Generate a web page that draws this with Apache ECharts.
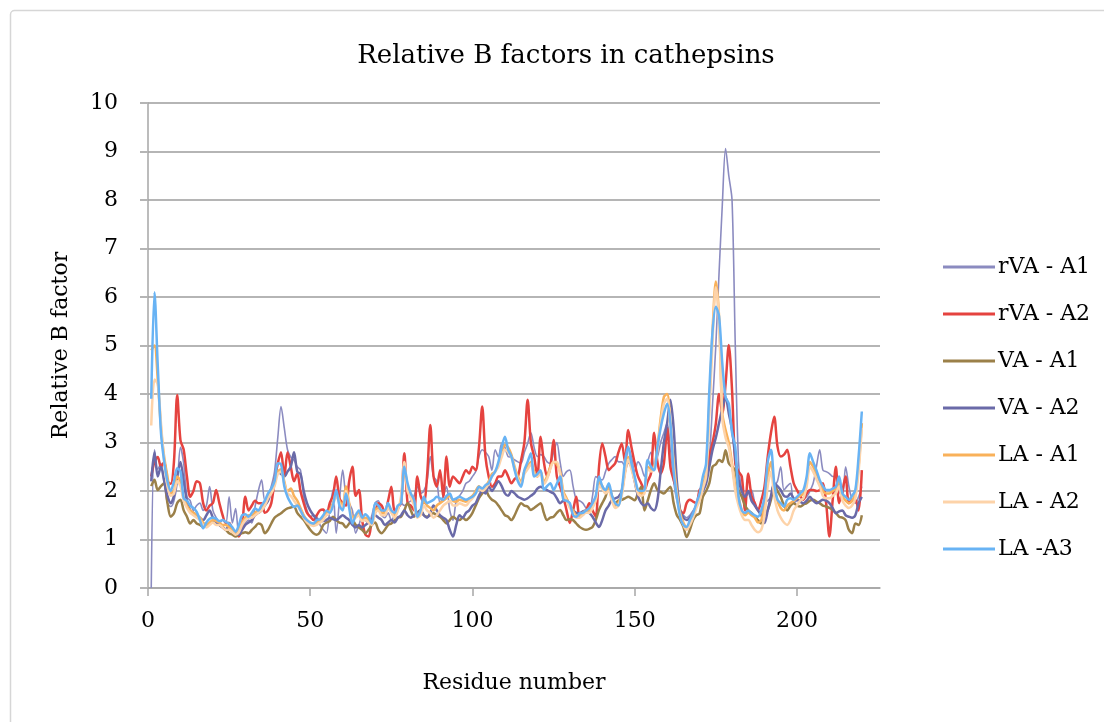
<!DOCTYPE html>
<html>
<head>
<meta charset="utf-8">
<title>Relative B factors in cathepsins</title>
<script src="https://cdn.jsdelivr.net/npm/echarts@6/dist/echarts.min.js"></script>
<style>
  html, body { margin: 0; padding: 0; background: #fff; }
  #chart { width: 1104px; height: 722px; }
</style>
</head>
<body>
<div id="chart"></div>
<script>
// relative B factor per residue (residues 1..220)
const rVA_A1 = [
  0, 2.85, 2.45, 2.57, 2.16, 1.75, 1.68, 1.8, 2.16, 2.9,
  2.57, 1.88, 1.8, 1.6, 1.7, 1.75, 1.6, 1.7, 2.09, 1.6,
  1.45, 1.34, 1.4, 1.34, 1.88, 1.34, 1.64, 1.13, 1.25, 1.34,
  1.4, 1.34, 1.68, 2.0, 2.23, 1.8, 1.9, 2.1, 2.4, 3.1,
  3.74, 3.3, 2.85, 2.7, 2.64, 2.5, 2.43, 1.88, 1.6, 1.47,
  1.5, 1.47, 1.3, 1.2, 1.13, 1.6, 2.02, 1.13, 1.8, 2.43,
  1.9, 1.75, 1.6, 1.13, 1.3, 1.47, 1.4, 1.33, 1.5, 1.75,
  1.8, 1.5, 1.45, 1.55, 1.4, 1.5, 1.6, 1.75, 1.7, 1.75,
  1.8, 1.9, 2.09, 1.95, 2.0, 2.2, 2.71, 2.3, 2.2, 1.75,
  1.9, 2.09, 1.6, 1.4, 1.8, 1.9, 2.0, 2.16, 2.2, 2.3,
  2.4, 2.71, 2.85, 2.8, 2.71, 2.43, 2.85, 2.7, 2.98, 2.9,
  2.71, 2.7, 2.64, 2.6, 2.57, 2.8, 2.98, 3.2, 2.9, 2.71,
  2.75, 2.71, 2.6, 2.57, 2.8, 3.0, 2.6, 2.3, 2.4, 2.43,
  2.1, 1.82, 1.8, 1.75, 1.65, 1.6, 1.9, 2.3, 2.25, 2.23,
  2.4, 2.57, 2.65, 2.71, 2.6, 2.6, 2.5, 2.9, 2.7, 2.4,
  2.6, 2.5, 2.3, 2.6, 2.8, 2.5, 2.7, 3.0, 3.2, 3.4,
  2.9, 2.2, 1.8, 1.6, 1.5, 1.45, 1.5, 1.6, 1.7, 1.88,
  2.0, 2.3, 2.7, 3.8, 5.0, 6.5, 7.9, 9.06, 8.5, 8.0,
  5.0, 2.6, 2.0, 1.88, 1.95, 2.02, 1.75, 1.6, 1.54, 1.75,
  1.8, 1.88, 2.09, 2.2, 2.5, 2.02, 2.1, 2.16, 1.75, 1.8,
  1.82, 1.85, 1.88, 2.0, 2.16, 2.5, 2.85, 2.43, 2.4, 2.36,
  2.3, 2.3, 2.0, 1.88, 2.5, 2.1, 1.82, 1.75, 1.88, 2.09
];
const rVA_A2 = [
  2.3, 2.6, 2.7, 2.5, 2.6, 2.2, 2.15, 2.6, 3.98, 3.05,
  2.85, 2.3, 1.88, 2.0, 2.2, 2.16, 1.75, 1.6, 1.7, 1.75,
  2.02, 1.75, 1.5, 1.34, 1.34, 1.2, 1.13, 1.06, 1.3, 1.88,
  1.6, 1.7, 1.8, 1.75, 1.75, 1.55, 1.6, 1.75, 2.2, 2.57,
  2.8, 2.3, 2.8, 2.5, 2.2, 2.36, 2.0, 1.75, 1.55, 1.47,
  1.4, 1.5, 1.6, 1.62, 1.5, 1.75, 1.9, 2.3, 1.85, 1.75,
  1.7, 2.2, 2.5, 1.9, 2.02, 1.4, 1.1, 1.06, 1.4, 1.55,
  1.75, 1.7, 1.55, 1.8, 2.09, 1.6, 1.65, 1.75, 2.78, 1.75,
  1.7, 1.6, 2.3, 1.9, 1.75, 2.3, 3.36, 2.3, 2.09, 2.43,
  1.88, 2.71, 2.09, 2.3, 2.23, 2.16, 2.3, 2.43, 2.36, 2.5,
  2.43, 2.9, 3.74, 2.71, 2.3, 2.09, 2.16, 2.3, 2.3, 2.43,
  2.3, 2.16, 2.25, 2.3, 2.64, 3.0, 3.88, 3.0, 2.71, 2.3,
  3.12, 2.6, 2.3, 2.5, 3.05, 2.3, 2.09, 1.88, 1.6, 1.34,
  1.6, 1.88, 1.47, 1.55, 1.6, 1.75, 1.6, 1.47, 2.5, 2.98,
  2.71, 2.43, 2.5, 2.57, 2.8, 2.98, 2.6, 3.26, 2.9, 2.57,
  2.3, 2.16, 2.02, 2.2, 2.36, 3.2, 2.6, 2.36, 2.57, 3.3,
  2.5, 2.23, 2.02, 1.6, 1.54, 1.75, 1.82, 1.78, 1.75, 2.02,
  2.1, 2.3, 2.71, 3.0, 3.39, 4.0, 3.6, 4.2, 5.01, 4.08,
  2.57, 2.4, 2.3, 1.6, 2.36, 1.9, 1.75, 1.6, 1.8, 2.09,
  2.71, 3.2, 3.53, 2.92, 2.71, 2.75, 2.85, 2.5, 2.16, 2.02,
  1.9, 1.82, 1.95, 2.02, 2.02, 2.0, 2.02, 2.16, 1.75, 1.06,
  1.8, 2.5, 1.75, 2.0, 2.3, 1.75, 1.8, 1.82, 1.6, 2.43
];
const VA_A1 = [
  2.1, 2.23, 2.02, 2.1, 2.16, 1.75, 1.47, 1.54, 1.75, 1.82,
  1.6, 1.47, 1.33, 1.4, 1.33, 1.3, 1.26, 1.3, 1.33, 1.38,
  1.4, 1.3, 1.26, 1.2, 1.13, 1.1, 1.06, 1.1, 1.13, 1.15,
  1.13, 1.2, 1.26, 1.33, 1.3, 1.13, 1.2, 1.33, 1.45, 1.5,
  1.54, 1.6, 1.64, 1.66, 1.68, 1.55, 1.47, 1.4, 1.3, 1.2,
  1.13, 1.1, 1.15, 1.3, 1.35, 1.38, 1.47, 1.4, 1.35, 1.33,
  1.25, 1.33, 1.4, 1.3, 1.25, 1.2, 1.13, 1.2, 1.3, 1.35,
  1.2, 1.13, 1.2, 1.3, 1.33, 1.4, 1.45, 1.47, 1.6, 1.75,
  1.6, 1.47, 1.55, 1.61, 1.5, 1.47, 1.5, 1.54, 1.5, 1.47,
  1.4, 1.33, 1.4, 1.47, 1.42, 1.4, 1.45, 1.4, 1.45, 1.55,
  1.7, 1.85, 1.95, 2.02, 1.9, 1.82, 1.78, 1.7, 1.6, 1.5,
  1.47, 1.4, 1.5, 1.65, 1.75, 1.7, 1.68, 1.61, 1.65, 1.7,
  1.75, 1.55, 1.4, 1.45, 1.47, 1.55, 1.61, 1.5, 1.4, 1.42,
  1.4, 1.33, 1.26, 1.22, 1.2, 1.22, 1.26, 1.4, 1.61, 1.75,
  1.88, 2.09, 1.9, 1.75, 1.8, 1.82, 1.85, 1.88, 1.85, 1.81,
  1.95, 2.09, 1.6, 1.8, 2.02, 2.16, 2.02, 1.98, 1.95, 2.02,
  2.09, 1.75, 1.5, 1.4, 1.26, 1.05, 1.2, 1.4, 1.5, 1.54,
  1.88, 2.0, 2.16, 2.5, 2.55, 2.64, 2.6, 2.84, 2.57, 2.5,
  2.43, 2.02, 1.88, 1.7, 1.6, 1.55, 1.47, 1.4, 1.33, 1.5,
  1.61, 1.82, 2.16, 2.0, 1.88, 1.7, 1.6, 1.7, 1.75, 1.7,
  1.68, 1.72, 1.75, 1.8, 1.82, 1.78, 1.75, 1.7, 1.68, 1.65,
  1.61, 1.55, 1.47, 1.45, 1.4, 1.2, 1.13, 1.33, 1.3, 1.5
];
const VA_A2 = [
  2.2, 2.8, 2.3, 2.5, 2.2, 1.9, 1.75, 1.9, 2.3, 2.6,
  2.2, 1.8, 1.6, 1.55, 1.5, 1.45, 1.4, 1.5, 1.6, 1.45,
  1.35, 1.3, 1.25, 1.2, 1.3, 1.2, 1.15, 1.1, 1.2, 1.3,
  1.35, 1.4, 1.5, 1.55, 1.6, 1.7, 1.8, 2.0, 2.2, 2.4,
  2.35, 2.3, 2.4, 2.5, 2.8, 2.4, 2.35, 2.0, 1.75, 1.6,
  1.5, 1.42, 1.4, 1.38, 1.4, 1.45, 1.42, 1.4, 1.45, 1.5,
  1.45, 1.4, 1.3, 1.25, 1.3, 1.25, 1.3, 1.35, 1.4, 1.5,
  1.45, 1.4, 1.3, 1.35, 1.4, 1.35, 1.45, 1.5, 1.6, 1.5,
  1.45, 1.5, 1.55, 1.6, 1.5, 1.45, 1.55, 1.7, 1.6, 1.5,
  1.45, 1.4, 1.2, 1.06, 1.3, 1.5, 1.45, 1.55, 1.6, 1.7,
  1.75, 1.9, 2.0, 1.95, 2.1, 2.0, 2.1, 2.2, 2.1, 1.95,
  1.9, 2.0, 1.95, 1.88, 1.85, 1.82, 1.85, 1.9, 1.95, 2.05,
  2.09, 2.05, 2.02, 1.98, 1.95, 1.85, 1.75, 1.8, 1.82, 1.7,
  1.6, 1.55, 1.54, 1.58, 1.6, 1.55, 1.47, 1.35, 1.26, 1.4,
  1.6, 1.7, 1.82, 1.85, 1.88, 2.0, 2.4, 2.6, 2.5, 2.2,
  1.9, 1.75, 1.7, 1.75, 1.65, 1.6, 1.8, 2.4, 3.0, 3.4,
  3.88, 3.3, 2.2, 1.6, 1.45, 1.4, 1.45, 1.54, 1.7, 1.88,
  2.0, 2.15, 2.5, 2.85, 3.1, 3.4, 3.7, 3.94, 3.6, 3.26,
  2.7, 2.23, 2.0, 1.88, 2.0, 1.8, 1.7, 1.6, 1.5, 1.34,
  1.6, 1.9, 2.16, 2.1, 2.02, 1.9, 1.88, 1.95, 1.85, 1.82,
  1.78, 1.75, 1.8, 1.88, 1.8, 1.75, 1.78, 1.82, 1.8, 1.75,
  1.65, 1.54, 1.58, 1.6, 1.5, 1.47, 1.45, 1.5, 1.75, 1.88
];
const LA_A1 = [
  4.9, 5.0, 4.3, 3.3, 2.7, 2.3, 1.95, 2.0, 2.3, 2.2,
  1.85, 1.7, 1.6, 1.55, 1.5, 1.45, 1.35, 1.3, 1.35, 1.4,
  1.38, 1.35, 1.3, 1.3, 1.25, 1.2, 1.15, 1.2, 1.35, 1.45,
  1.5, 1.5, 1.55, 1.6, 1.65, 1.75, 1.9, 2.0, 2.2, 2.4,
  2.45, 2.2, 2.0, 2.05, 1.9, 1.8, 1.65, 1.5, 1.4, 1.35,
  1.3, 1.35, 1.4, 1.45, 1.55, 1.6, 1.75, 1.95, 1.8, 1.7,
  2.1, 1.75, 1.45, 1.5, 1.55, 1.4, 1.45, 1.4, 1.35, 1.6,
  1.65, 1.55, 1.55, 1.7, 1.6, 1.5, 1.65, 1.8, 2.45, 2.1,
  1.9, 1.8, 1.5, 1.55, 1.8, 1.7, 1.65, 1.6, 1.7, 1.75,
  1.8, 1.85, 1.9, 1.8, 1.78, 1.82, 1.8, 1.78, 1.85, 1.9,
  2.0, 2.1, 2.05, 2.1, 2.2, 2.35, 2.4, 2.55, 2.8, 2.95,
  2.9, 2.75, 2.5, 2.3, 2.2, 2.4, 2.5, 2.6, 2.4, 2.3,
  2.4, 2.2, 2.3, 2.5, 2.6, 2.55, 2.4, 2.0, 1.85, 1.7,
  1.6, 1.5, 1.5, 1.55, 1.6, 1.6, 1.7, 1.85, 2.2, 2.1,
  2.0, 2.05, 1.85, 1.7, 1.75, 1.95, 2.4, 2.7, 2.5, 2.25,
  2.0, 1.95, 2.0, 2.5, 2.45, 2.5, 2.9, 3.5, 3.94, 4.0,
  3.4, 2.6, 2.0, 1.55, 1.35, 1.25, 1.35, 1.5, 1.7, 1.85,
  2.1, 2.4, 3.8, 5.32, 6.32, 5.59, 3.6, 3.26, 3.0, 2.57,
  2.1, 1.88, 1.6, 1.5, 1.55, 1.5, 1.45, 1.35, 1.4, 1.7,
  2.3, 2.6, 2.1, 1.8, 1.65, 1.6, 1.7, 1.75, 1.8, 1.85,
  1.9, 1.95, 2.2, 2.6, 2.5, 2.35, 2.2, 2.0, 1.95, 1.95,
  2.0, 2.05, 2.2, 1.9, 1.8, 1.75, 1.8, 1.95, 2.5, 3.4
];
const LA_A2 = [
  3.35, 4.3, 4.2, 3.4, 2.6, 2.1, 1.9, 1.95, 2.2, 2.1,
  1.8, 1.65, 1.55, 1.5, 1.45, 1.4, 1.3, 1.25, 1.3, 1.35,
  1.3, 1.3, 1.25, 1.2, 1.2, 1.15, 1.1, 1.15, 1.3, 1.4,
  1.45, 1.45, 1.5, 1.55, 1.6, 1.7, 1.85, 1.95, 2.1, 2.35,
  2.4, 2.15, 1.95, 1.9, 1.8, 1.7, 1.6, 1.45, 1.35, 1.3,
  1.28, 1.3, 1.35, 1.4, 1.5, 1.55, 1.7, 1.9, 1.75, 1.65,
  2.0, 1.7, 1.4, 1.45, 1.5, 1.38, 1.4, 1.35, 1.3, 1.55,
  1.6, 1.5, 1.5, 1.65, 1.55, 1.45, 1.6, 1.9, 2.6, 2.0,
  1.85, 1.7, 1.45, 1.5, 1.7, 1.6, 1.55, 1.45, 1.5, 1.6,
  1.7, 1.75, 1.8, 1.7, 1.7, 1.75, 1.72, 1.7, 1.78, 1.85,
  1.95, 2.05, 2.0, 2.05, 2.15, 2.3, 2.4, 2.5, 2.7, 2.85,
  2.8, 2.7, 2.45, 2.25, 2.15, 2.35, 2.45, 2.55, 2.35, 2.3,
  2.35, 2.15, 2.25, 2.45, 2.6, 2.6, 2.35, 1.95, 1.8, 1.65,
  1.55, 1.45, 1.45, 1.5, 1.55, 1.55, 1.65, 1.8, 2.1, 2.05,
  1.95, 2.0, 1.8, 1.65, 1.7, 1.9, 2.35, 2.65, 2.45, 2.2,
  1.95, 1.9, 1.95, 2.45, 2.4, 2.45, 2.85, 3.4, 3.8, 3.9,
  3.3, 2.5, 1.9, 1.5, 1.3, 1.2, 1.3, 1.45, 1.65, 1.8,
  2.05, 2.3, 3.6, 5.1, 6.2, 5.5, 3.5, 3.1, 2.9, 2.5,
  2.0, 1.7, 1.5, 1.4, 1.4, 1.3, 1.2, 1.15, 1.2, 1.5,
  2.1, 2.4, 1.9, 1.6, 1.45, 1.35, 1.3, 1.4, 1.6, 1.7,
  1.8, 1.85, 2.1, 2.5, 2.4, 2.25, 2.1, 1.9, 1.85, 1.85,
  1.9, 1.95, 2.1, 1.8, 1.7, 1.65, 1.7, 1.85, 2.4, 3.3
];
const LA_A3 = [
  3.9, 6.1, 4.6, 3.2, 2.6, 2.2, 2.0, 2.2, 2.47, 2.4,
  1.85, 1.8, 1.7, 1.65, 1.57, 1.4, 1.23, 1.35, 1.43, 1.45,
  1.43, 1.38, 1.4, 1.36, 1.33, 1.25, 1.16, 1.3, 1.5, 1.52,
  1.47, 1.55, 1.64, 1.6, 1.7, 1.8, 1.95, 2.05, 2.2, 2.57,
  2.55, 2.1, 1.88, 1.75, 1.67, 1.7, 1.6, 1.47, 1.4, 1.35,
  1.33, 1.4, 1.42, 1.5, 1.6, 1.55, 1.7, 2.02, 1.7, 1.6,
  1.95, 1.65, 1.33, 1.5, 1.6, 1.45, 1.52, 1.45, 1.33, 1.75,
  1.7, 1.6, 1.6, 1.75, 1.6, 1.55, 1.7, 1.75, 2.5, 2.16,
  1.95, 1.82, 1.47, 1.6, 1.88, 1.75, 1.78, 1.82, 1.88, 1.85,
  1.82, 1.9, 1.95, 1.82, 1.85, 1.88, 1.85, 1.82, 1.85, 1.88,
  1.95, 2.09, 2.05, 2.12, 2.16, 2.3, 2.4, 2.6, 2.9, 3.12,
  2.85, 2.71, 2.43, 2.2, 2.09, 2.43, 2.6, 2.78, 2.3, 2.35,
  2.43, 2.02, 2.1, 2.16, 2.02, 2.15, 2.3, 1.82, 1.8, 1.75,
  1.5, 1.47, 1.54, 1.55, 1.6, 1.65, 1.75, 1.9, 2.3, 2.1,
  2.02, 2.16, 1.9, 1.75, 1.7, 2.0, 2.6, 2.91, 2.57, 2.3,
  2.02, 2.0, 2.02, 2.64, 2.5, 2.43, 2.91, 3.3, 3.6, 3.8,
  3.4, 2.4, 1.88, 1.47, 1.3, 1.26, 1.4, 1.54, 1.75, 1.95,
  2.3, 2.57, 4.08, 5.3, 5.8, 5.6, 4.63, 3.94, 3.8, 3.2,
  2.91, 1.88, 1.6, 1.55, 1.6, 1.54, 1.5, 1.47, 1.6, 1.88,
  2.6, 2.85, 2.16, 1.82, 1.75, 1.68, 1.82, 1.85, 1.82, 1.88,
  1.95, 2.02, 2.3, 2.78, 2.6, 2.43, 2.23, 2.1, 2.02, 2.02,
  2.05, 2.09, 2.3, 1.95, 1.88, 1.82, 1.9, 2.02, 2.71, 3.64
];

const seriesNames = ['rVA - A1', 'rVA - A2', 'VA - A1', 'VA - A2', 'LA - A1', 'LA - A2', 'LA -A3'];
const seriesValues = [rVA_A1, rVA_A2, VA_A1, VA_A2, LA_A1, LA_A2, LA_A3];
const colors = ['#8b8bc0', '#e5433f', '#9b8049', '#6a6aa8', '#f9b15a', '#fdd3a9', '#68b3f4'];
const widths = [1.6, 2.5, 2.5, 2.5, 2.5, 2.5, 2.5];

const residues = rVA_A1.map((_, i) => i + 1);

const serif = 'DejaVu Serif';

const chart = echarts.init(document.getElementById('chart'));

chart.setOption({
  backgroundColor: '#fff',
  animation: false,
  color: colors,
  textStyle: { fontFamily: serif, color: '#000' },
  title: {
    text: 'Relative B factors in cathepsins',
    left: 561,
    top: 38,
    textAlign: 'center',
    textStyle: { fontFamily: serif, fontSize: 26, fontWeight: 'normal', color: '#000' }
  },
  legend: {
    orient: 'vertical',
    left: 938,
    top: 251,
    itemWidth: 52,
    itemHeight: 14,
    itemGap: 25,
    icon: 'path://M0,5.5 L52,5.5 L52,8.5 L0,8.5 Z',
    textStyle: { fontFamily: serif, fontSize: 22, color: '#000', padding: [0, 0, 0, -2] },
    data: seriesNames
  },
  grid: {
    left: 148,
    right: 224,
    top: 103,
    bottom: 134,
    containLabel: false
  },
  xAxis: {
    type: 'value',
    min: 0,
    max: 225.6,
    interval: 50,
    name: 'Residue number',
    nameLocation: 'middle',
    nameGap: 84,
    nameTextStyle: { fontFamily: serif, fontSize: 22, color: '#000' },
    axisLine: { lineStyle: { color: '#a6a6a6', width: 1.5 } },
    axisTick: { length: 8, lineStyle: { color: '#a6a6a6', width: 1.5 } },
    axisLabel: { fontFamily: serif, fontSize: 22, color: '#000', margin: 22, showMaxLabel: false },
    splitLine: { show: false }
  },
  yAxis: {
    type: 'value',
    min: 0,
    max: 10,
    interval: 1,
    name: 'Relative B factor',
    nameLocation: 'middle',
    nameGap: 76,
    nameTextStyle: { fontFamily: serif, fontSize: 22, color: '#000' },
    axisLine: { show: true, lineStyle: { color: '#a6a6a6', width: 1.5 } },
    axisTick: { show: true, length: 8, lineStyle: { color: '#b5b5b5', width: 2 } },
    axisLabel: { fontFamily: serif, fontSize: 22, color: '#000', margin: 30 },
    splitLine: { lineStyle: { color: '#b5b5b5', width: 2 } }
  },
  graphic: [{
    type: 'rect',
    left: 8,
    top: 8,
    shape: { width: 1200, height: 800, r: 4 },
    style: { fill: 'none', stroke: '#d6d6d6', lineWidth: 1.5 },
    silent: true
  }],
  series: seriesNames.map((name, k) => ({
    name: name,
    type: 'line',
    symbol: 'none',
    smooth: 0.3,
    lineStyle: { width: widths[k], color: colors[k] },
    itemStyle: { color: colors[k] },
    data: residues.map((r, i) => [r, seriesValues[k][i]])
  }))
});
</script>
</body>
</html>
